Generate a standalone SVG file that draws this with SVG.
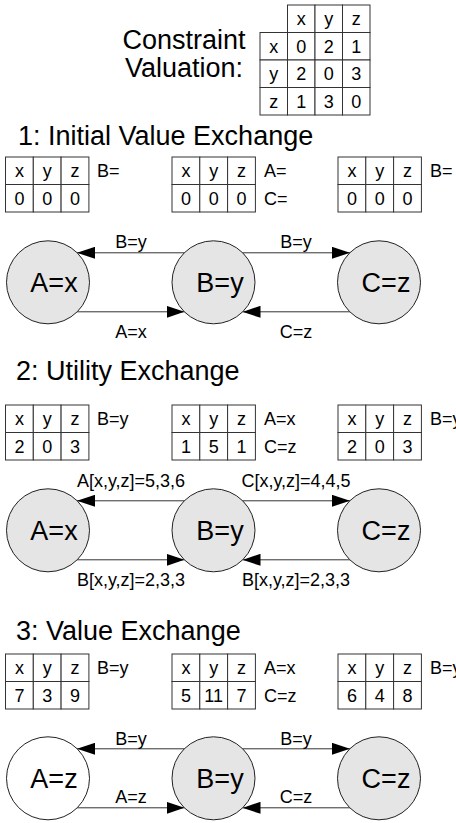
<svg xmlns="http://www.w3.org/2000/svg" width="456" height="823" viewBox="0 0 456 823">
<style>
text{font-family:"Liberation Sans",Arial,sans-serif;fill:#000}
.title{font-size:27px}
.big{font-size:27px;text-anchor:middle}
.cell{font-size:18px;text-anchor:middle}
.lbl{font-size:18px}
.elbl{font-size:18px;text-anchor:middle}
.grid{fill:#fff;stroke:#333;stroke-width:1}
.node{fill:#e5e5e5;stroke:#222;stroke-width:1}
.nodew{fill:#fff;stroke:#222;stroke-width:1}
.edge{stroke:#333;stroke-width:1;fill:none;marker-end:url(#ah)}
</style>
<defs>
<marker id="ah" markerUnits="userSpaceOnUse" markerWidth="18" markerHeight="12" refX="18" refY="6" orient="auto">
<path d="M0,0 L18,6 L0,12 z" fill="#000"/>
</marker>
</defs>
<rect width="456" height="823" fill="#fff"/>

<g id="constraint">
<text class="title" x="184" y="49" text-anchor="middle">Constraint</text>
<text class="title" x="184" y="77" text-anchor="middle">Valuation:</text>
<g class="grid">
<rect x="287.5" y="5" width="27.5" height="27.5"/><rect x="315" y="5" width="27.5" height="27.5"/><rect x="342.5" y="5" width="27.5" height="27.5"/>
<rect x="260" y="32.5" width="27.5" height="27.5"/><rect x="287.5" y="32.5" width="27.5" height="27.5"/><rect x="315" y="32.5" width="27.5" height="27.5"/><rect x="342.5" y="32.5" width="27.5" height="27.5"/>
<rect x="260" y="60" width="27.5" height="27.5"/><rect x="287.5" y="60" width="27.5" height="27.5"/><rect x="315" y="60" width="27.5" height="27.5"/><rect x="342.5" y="60" width="27.5" height="27.5"/>
<rect x="260" y="87.5" width="27.5" height="27.5"/><rect x="287.5" y="87.5" width="27.5" height="27.5"/><rect x="315" y="87.5" width="27.5" height="27.5"/><rect x="342.5" y="87.5" width="27.5" height="27.5"/>
</g>
<text class="cell" x="301.2" y="25">x</text><text class="cell" x="328.7" y="25">y</text><text class="cell" x="356.2" y="25">z</text>
<text class="cell" x="273.7" y="52.5">x</text><text class="cell" x="301.2" y="52.5">0</text><text class="cell" x="328.7" y="52.5">2</text><text class="cell" x="356.2" y="52.5">1</text>
<text class="cell" x="273.7" y="80">y</text><text class="cell" x="301.2" y="80">2</text><text class="cell" x="328.7" y="80">0</text><text class="cell" x="356.2" y="80">3</text>
<text class="cell" x="273.7" y="107.5">z</text><text class="cell" x="301.2" y="107.5">1</text><text class="cell" x="328.7" y="107.5">3</text><text class="cell" x="356.2" y="107.5">0</text>
</g>

<!-- Section 1 -->
<text class="title" x="18" y="145">1: Initial Value Exchange</text>
<g id="s1-tableA">
<g class="grid"><rect x="5.5" y="157" width="27.8" height="27.5"/><rect x="33.3" y="157" width="27.8" height="27.5"/><rect x="61.1" y="157" width="27.8" height="27.5"/><rect x="5.5" y="184.5" width="27.8" height="27.5"/><rect x="33.3" y="184.5" width="27.8" height="27.5"/><rect x="61.1" y="184.5" width="27.8" height="27.5"/></g>
<text class="cell" x="19.4" y="177">x</text><text class="cell" x="47.2" y="177">y</text><text class="cell" x="75" y="177">z</text>
<text class="cell" x="19.4" y="204.5">0</text><text class="cell" x="47.2" y="204.5">0</text><text class="cell" x="75" y="204.5">0</text>
<text class="lbl" x="97" y="177">B=</text>
</g>
<g id="s1-tableB">
<g class="grid"><rect x="172" y="157" width="27.8" height="27.5"/><rect x="199.8" y="157" width="27.8" height="27.5"/><rect x="227.6" y="157" width="27.8" height="27.5"/><rect x="172" y="184.5" width="27.8" height="27.5"/><rect x="199.8" y="184.5" width="27.8" height="27.5"/><rect x="227.6" y="184.5" width="27.8" height="27.5"/></g>
<text class="cell" x="185.9" y="177">x</text><text class="cell" x="213.7" y="177">y</text><text class="cell" x="241.5" y="177">z</text>
<text class="cell" x="185.9" y="204.5">0</text><text class="cell" x="213.7" y="204.5">0</text><text class="cell" x="241.5" y="204.5">0</text>
<text class="lbl" x="264" y="177">A=</text><text class="lbl" x="264" y="204.5">C=</text>
</g>
<g id="s1-tableC">
<g class="grid"><rect x="338" y="157" width="27.8" height="27.5"/><rect x="365.8" y="157" width="27.8" height="27.5"/><rect x="393.6" y="157" width="27.8" height="27.5"/><rect x="338" y="184.5" width="27.8" height="27.5"/><rect x="365.8" y="184.5" width="27.8" height="27.5"/><rect x="393.6" y="184.5" width="27.8" height="27.5"/></g>
<text class="cell" x="351.9" y="177">x</text><text class="cell" x="379.7" y="177">y</text><text class="cell" x="407.5" y="177">z</text>
<text class="cell" x="351.9" y="204.5">0</text><text class="cell" x="379.7" y="204.5">0</text><text class="cell" x="407.5" y="204.5">0</text>
<text class="lbl" x="430" y="177">B=</text>
</g>
<g id="s1-connectors">
<line class="edge" x1="184.5" y1="252.8" x2="77" y2="252.8"/>
<line class="edge" x1="242.5" y1="252.8" x2="350" y2="252.8"/>
<line class="edge" x1="77" y1="311.8" x2="184.5" y2="311.8"/>
<line class="edge" x1="350" y1="311.8" x2="242.5" y2="311.8"/>
<text class="elbl" x="131" y="248">B=y</text>
<text class="elbl" x="296" y="248">B=y</text>
<text class="elbl" x="131" y="338">A=x</text>
<text class="elbl" x="296" y="338">C=z</text>
</g>
<g id="s1-A"><circle class="node" cx="48" cy="282.3" r="41.5"/><text class="big" x="54" y="291.8">A=x</text></g>
<g id="s1-B"><circle class="node" cx="213.5" cy="282.3" r="41.5"/><text class="big" x="220" y="291.8">B=y</text></g>
<g id="s1-C"><circle class="node" cx="379" cy="282.3" r="41.5"/><text class="big" x="386" y="291.8">C=z</text></g>

<!-- Section 2 -->
<text class="title" x="16" y="380">2: Utility Exchange</text>
<g id="s2-tableA">
<g class="grid"><rect x="5.5" y="405" width="27.8" height="27.5"/><rect x="33.3" y="405" width="27.8" height="27.5"/><rect x="61.1" y="405" width="27.8" height="27.5"/><rect x="5.5" y="432.5" width="27.8" height="27.5"/><rect x="33.3" y="432.5" width="27.8" height="27.5"/><rect x="61.1" y="432.5" width="27.8" height="27.5"/></g>
<text class="cell" x="19.4" y="425">x</text><text class="cell" x="47.2" y="425">y</text><text class="cell" x="75" y="425">z</text>
<text class="cell" x="19.4" y="452.5">2</text><text class="cell" x="47.2" y="452.5">0</text><text class="cell" x="75" y="452.5">3</text>
<text class="lbl" x="97" y="425">B=y</text>
</g>
<g id="s2-tableB">
<g class="grid"><rect x="172" y="405" width="27.8" height="27.5"/><rect x="199.8" y="405" width="27.8" height="27.5"/><rect x="227.6" y="405" width="27.8" height="27.5"/><rect x="172" y="432.5" width="27.8" height="27.5"/><rect x="199.8" y="432.5" width="27.8" height="27.5"/><rect x="227.6" y="432.5" width="27.8" height="27.5"/></g>
<text class="cell" x="185.9" y="425">x</text><text class="cell" x="213.7" y="425">y</text><text class="cell" x="241.5" y="425">z</text>
<text class="cell" x="185.9" y="452.5">1</text><text class="cell" x="213.7" y="452.5">5</text><text class="cell" x="241.5" y="452.5">1</text>
<text class="lbl" x="264" y="425">A=x</text><text class="lbl" x="264" y="452.5">C=z</text>
</g>
<g id="s2-tableC">
<g class="grid"><rect x="338" y="405" width="27.8" height="27.5"/><rect x="365.8" y="405" width="27.8" height="27.5"/><rect x="393.6" y="405" width="27.8" height="27.5"/><rect x="338" y="432.5" width="27.8" height="27.5"/><rect x="365.8" y="432.5" width="27.8" height="27.5"/><rect x="393.6" y="432.5" width="27.8" height="27.5"/></g>
<text class="cell" x="351.9" y="425">x</text><text class="cell" x="379.7" y="425">y</text><text class="cell" x="407.5" y="425">z</text>
<text class="cell" x="351.9" y="452.5">2</text><text class="cell" x="379.7" y="452.5">0</text><text class="cell" x="407.5" y="452.5">3</text>
<text class="lbl" x="430" y="425">B=y</text>
</g>
<g id="s2-connectors">
<line class="edge" x1="184.5" y1="500.8" x2="77" y2="500.8"/>
<line class="edge" x1="242.5" y1="500.8" x2="350" y2="500.8"/>
<line class="edge" x1="77" y1="559.8" x2="184.5" y2="559.8"/>
<line class="edge" x1="350" y1="559.8" x2="242.5" y2="559.8"/>
<text class="elbl" x="131" y="487">A[x,y,z]=5,3,6</text>
<text class="elbl" x="296" y="487">C[x,y,z]=4,4,5</text>
<text class="elbl" x="131" y="586">B[x,y,z]=2,3,3</text>
<text class="elbl" x="296" y="586">B[x,y,z]=2,3,3</text>
</g>
<g id="s2-A"><circle class="node" cx="48" cy="530.3" r="41.5"/><text class="big" x="54" y="539.8">A=x</text></g>
<g id="s2-B"><circle class="node" cx="213.5" cy="530.3" r="41.5"/><text class="big" x="220" y="539.8">B=y</text></g>
<g id="s2-C"><circle class="node" cx="379" cy="530.3" r="41.5"/><text class="big" x="386" y="539.8">C=z</text></g>

<!-- Section 3 -->
<text class="title" x="16" y="640">3: Value Exchange</text>
<g id="s3-tableA">
<g class="grid"><rect x="5.5" y="654" width="27.8" height="27.5"/><rect x="33.3" y="654" width="27.8" height="27.5"/><rect x="61.1" y="654" width="27.8" height="27.5"/><rect x="5.5" y="681.5" width="27.8" height="27.5"/><rect x="33.3" y="681.5" width="27.8" height="27.5"/><rect x="61.1" y="681.5" width="27.8" height="27.5"/></g>
<text class="cell" x="19.4" y="674">x</text><text class="cell" x="47.2" y="674">y</text><text class="cell" x="75" y="674">z</text>
<text class="cell" x="19.4" y="701.5">7</text><text class="cell" x="47.2" y="701.5">3</text><text class="cell" x="75" y="701.5">9</text>
<text class="lbl" x="97" y="674">B=y</text>
</g>
<g id="s3-tableB">
<g class="grid"><rect x="172" y="654" width="27.8" height="27.5"/><rect x="199.8" y="654" width="27.8" height="27.5"/><rect x="227.6" y="654" width="27.8" height="27.5"/><rect x="172" y="681.5" width="27.8" height="27.5"/><rect x="199.8" y="681.5" width="27.8" height="27.5"/><rect x="227.6" y="681.5" width="27.8" height="27.5"/></g>
<text class="cell" x="185.9" y="674">x</text><text class="cell" x="213.7" y="674">y</text><text class="cell" x="241.5" y="674">z</text>
<text class="cell" x="185.9" y="701.5">5</text><text class="cell" x="213.7" y="701.5">11</text><text class="cell" x="241.5" y="701.5">7</text>
<text class="lbl" x="264" y="674">A=x</text><text class="lbl" x="264" y="701.5">C=z</text>
</g>
<g id="s3-tableC">
<g class="grid"><rect x="338" y="654" width="27.8" height="27.5"/><rect x="365.8" y="654" width="27.8" height="27.5"/><rect x="393.6" y="654" width="27.8" height="27.5"/><rect x="338" y="681.5" width="27.8" height="27.5"/><rect x="365.8" y="681.5" width="27.8" height="27.5"/><rect x="393.6" y="681.5" width="27.8" height="27.5"/></g>
<text class="cell" x="351.9" y="674">x</text><text class="cell" x="379.7" y="674">y</text><text class="cell" x="407.5" y="674">z</text>
<text class="cell" x="351.9" y="701.5">6</text><text class="cell" x="379.7" y="701.5">4</text><text class="cell" x="407.5" y="701.5">8</text>
<text class="lbl" x="430" y="674">B=y</text>
</g>
<g id="s3-connectors">
<line class="edge" x1="184.5" y1="748.8" x2="77" y2="748.8"/>
<line class="edge" x1="242.5" y1="748.8" x2="350" y2="748.8"/>
<line class="edge" x1="77" y1="807.8" x2="184.5" y2="807.8"/>
<line class="edge" x1="350" y1="807.8" x2="242.5" y2="807.8"/>
<text class="elbl" x="131" y="745">B=y</text>
<text class="elbl" x="296" y="745">B=y</text>
<text class="elbl" x="131" y="803">A=z</text>
<text class="elbl" x="296" y="803">C=z</text>
</g>
<g id="s3-A"><circle class="nodew" cx="48" cy="778.3" r="41.5"/><text class="big" x="54" y="787.8">A=z</text></g>
<g id="s3-B"><circle class="node" cx="213.5" cy="778.3" r="41.5"/><text class="big" x="220" y="787.8">B=y</text></g>
<g id="s3-C"><circle class="node" cx="379" cy="778.3" r="41.5"/><text class="big" x="386" y="787.8">C=z</text></g>
</svg>
